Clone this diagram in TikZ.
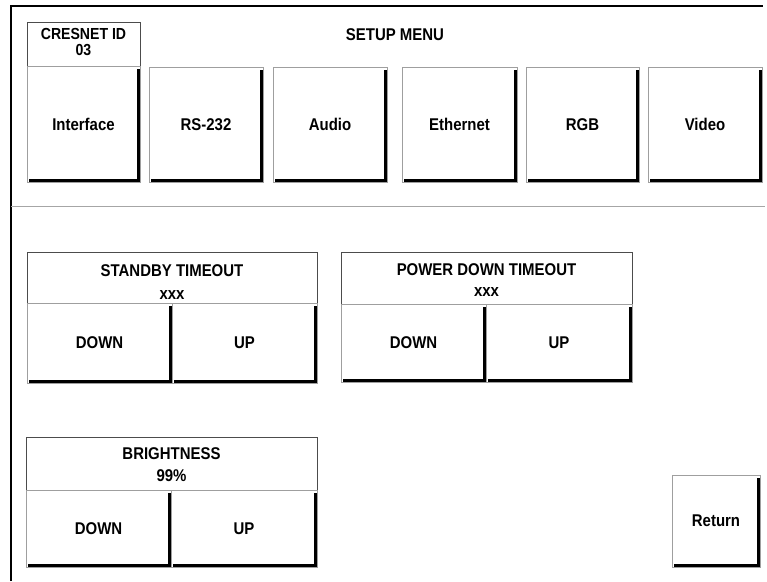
\documentclass[tikz,border=0pt]{standalone}
\usepackage{fontspec}
\setmainfont{Liberation Sans}
\newfontfamily\lab[FakeStretch=0.88]{Liberation Sans}
\usetikzlibrary{calc}
\begin{document}
\begin{tikzpicture}[x=1pt,y=-1pt,
  lbl/.style={font=\lab\bfseries\fontsize{17}{17}\selectfont, inner sep=0pt},
  small/.style={font=\lab\bfseries\fontsize{16}{16}\selectfont, inner sep=0pt},
  btn/.style={draw=gray!75, line width=0.8pt, fill=white, inner sep=0pt, outer sep=0pt, lbl},
  hdr/.style={draw=black!70, line width=0.8pt, fill=white, inner sep=0pt, outer sep=0pt},
  shade/.style={line width=3pt, black, line cap=butt, line join=miter},
  frame/.style={line width=2pt, black},
  sep/.style={line width=1.2pt, gray!70}
  ]
\useasboundingbox (0,0) rectangle (767,581);
\fill[white] (0,0) rectangle (767,581);

% outer frame and separator
\coordinate (fbl) at (11,581);
\coordinate (ftl) at (11,5.5);
\coordinate (ftr) at (763,5.5);
\draw[frame] (fbl) -- (ftl) -- (ftr);
\coordinate (sepl) at (11,206.5);
\coordinate (sepr) at (765,206.5);
\draw[sep] (sepl) -- (sepr);

% title
\node[lbl, anchor=base] (title) at (395,40) {SETUP MENU};

% cresnet header
\node[hdr, minimum width=113pt, minimum height=44pt] (cres) at (83.5,44) {};
\node[small, anchor=base] (cresA) at (83.5,39) {CRESNET ID};
\node[small, anchor=base] (cresB) at (83.5,55.5) {03};

% top row buttons
\node[btn, minimum width=113pt, minimum height=116pt] (iface) at (83.5,124) {Interface};
\node[btn, minimum width=114pt, minimum height=115pt] (rs) at (206,124.5) {RS-232};
\node[btn, minimum width=114pt, minimum height=115pt] (audio) at (330,124.5) {Audio};
\node[btn, minimum width=115pt, minimum height=115pt] (eth) at (459.5,124.5) {Ethernet};
\node[btn, minimum width=113pt, minimum height=115pt] (rgb) at (582.5,124.5) {RGB};
\node[btn, minimum width=114pt, minimum height=115pt] (video) at (705,124.5) {Video};

% standby timeout
\node[hdr, minimum width=290pt, minimum height=51pt] (sbh) at (172,277.5) {};
\node[lbl, anchor=base] (sbt) at (172,276) {STANDBY TIMEOUT};
\node[lbl, anchor=base] (sbv) at (172,299) {xxx};
\node[btn, minimum width=145pt, minimum height=80pt] (sbd) at (99.5,343) {DOWN};
\node[btn, minimum width=145pt, minimum height=80pt] (sbu) at (244.5,343) {UP};

% power down timeout
\node[hdr, minimum width=291pt, minimum height=52pt] (pdh) at (486.5,278) {};
\node[lbl, anchor=base] (pdt) at (486.5,275) {POWER DOWN TIMEOUT};
\node[lbl, anchor=base] (pdv) at (486.5,296) {xxx};
\node[btn, minimum width=145pt, minimum height=78pt] (pdd) at (413.5,343) {DOWN};
\node[btn, minimum width=146pt, minimum height=78pt] (pdu) at (559,343) {UP};

% brightness
\node[hdr, minimum width=291pt, minimum height=53pt] (brh) at (171.5,463.5) {};
\node[lbl, anchor=base] (brt) at (171.5,459) {BRIGHTNESS};
\node[lbl, anchor=base] (brv) at (171.5,481) {99\%};
\node[btn, minimum width=145pt, minimum height=77pt] (brd) at (98.5,528.5) {DOWN};
\node[btn, minimum width=146pt, minimum height=77pt] (bru) at (244,528.5) {UP};

% return
\node[btn, minimum width=88pt, minimum height=92pt] (ret) at (716,521) {Return};

% button shadows
\foreach \n in {iface,rs,audio,eth,rgb,video,sbd,sbu,pdd,pdu,brd,bru,ret}
  \draw[shade] ($(\n.north east)+(-1.5,3)$) -- ($(\n.south east)+(-1.5,-1.5)$) -- ($(\n.south west)+(2,-1.5)$);
\end{tikzpicture}
\end{document}
